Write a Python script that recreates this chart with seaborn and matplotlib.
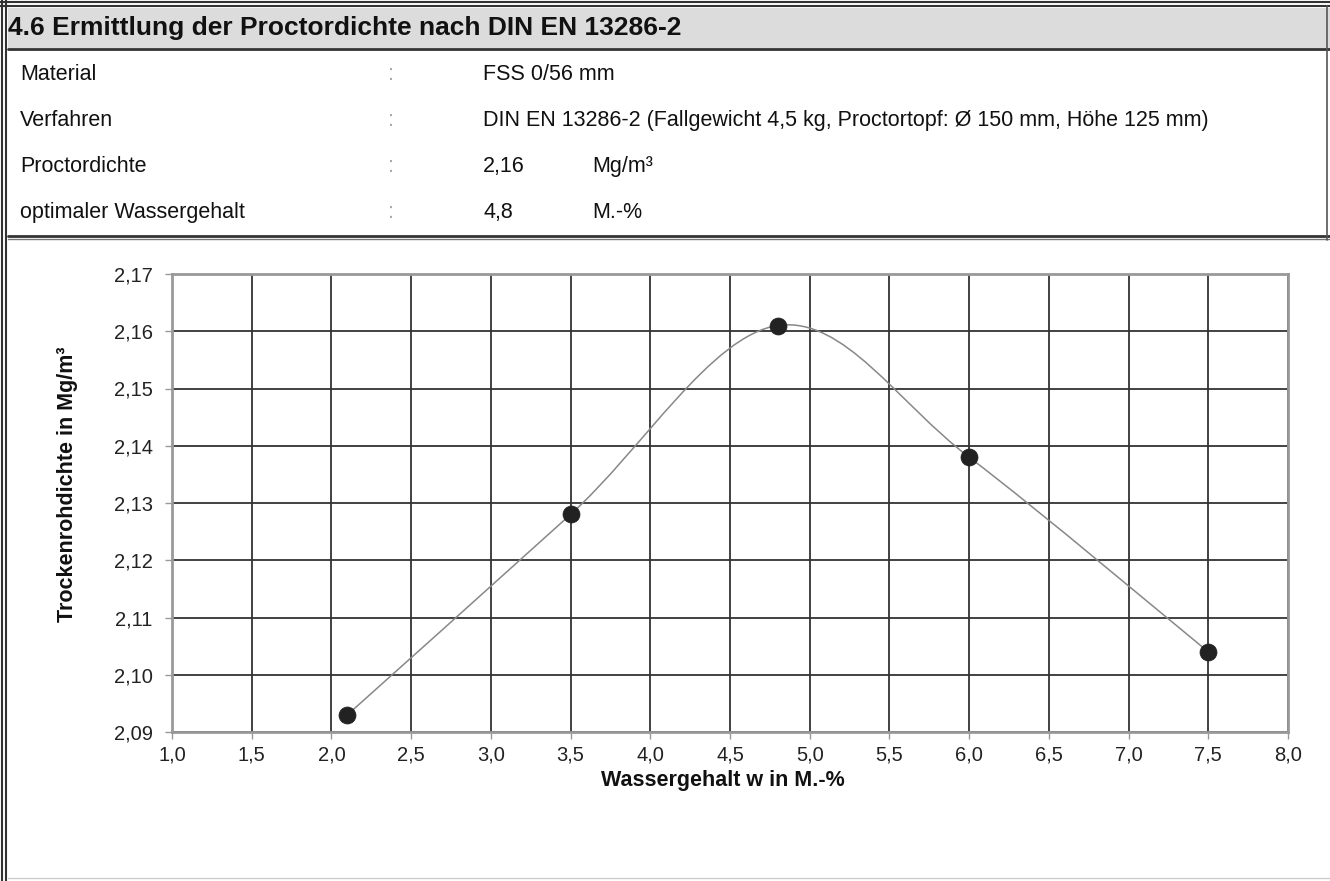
import matplotlib
matplotlib.use("Agg")
import matplotlib.pyplot as plt
from matplotlib.lines import Line2D
from matplotlib.patches import Rectangle, PathPatch
from matplotlib.path import Path
from matplotlib.ticker import FuncFormatter, MultipleLocator
import seaborn as sns
import pandas as pd

# ── Data ─────────────────────────────────────────────────────────────────────
water_content = [2.1, 3.5, 4.8, 6.0, 7.5]          # M.-%
dry_density   = [2.093, 2.128, 2.161, 2.138, 2.104]  # Mg/m³

row_labels = ["Material", "Verfahren", "Proctordichte", "optimaler Wassergehalt"]
row_values = ["FSS 0/56 mm",
              "DIN EN 13286-2 (Fallgewicht 4,5 kg, Proctortopf: Ø 150 mm, Höhe 125 mm)",
              "2,16", "4,8"]
row_units  = ["", "", "Mg/m³", "M.-%"]

title  = "4.6 Ermittlung der Proctordichte nach DIN EN 13286-2"
xlabel = "Wassergehalt w in M.-%"
ylabel = "Trockenrohdichte in Mg/m³"

# ── Style ────────────────────────────────────────────────────────────────────
sns.set_theme(style="white")
plt.rcParams["font.family"] = ["Liberation Sans", "DejaVu Sans"]

W, H = 1330, 881
fig = plt.figure(figsize=(W / 100, H / 100), dpi=100)
fig.patch.set_facecolor("white")


def fx(px):
    return px / W


def fy(py):
    return 1 - py / H


def hline(y, x0=0, x1=W, lw=1.5, color="#333"):
    fig.add_artist(Line2D([fx(x0), fx(x1)], [fy(y), fy(y)], lw=lw, color=color))


def vline(x, y0=0, y1=H, lw=1.5, color="#333"):
    fig.add_artist(Line2D([fx(x), fx(x)], [fy(y0), fy(y1)], lw=lw, color=color))


# ── Header table ─────────────────────────────────────────────────────────────
fig.add_artist(Rectangle((fx(8), fy(48)), fx(W - 8), 40 / H,
                         facecolor="#dcdcdc", edgecolor="none"))
hline(2, lw=1.5)
hline(6, lw=1.5)
hline(49, x0=8, lw=2)
hline(236, x0=8, lw=2)
hline(239, x0=8, lw=1, color="#777")
hline(878, x0=8, lw=1, color="#ccc")
vline(2, lw=1.5)
vline(6, lw=1.5)
vline(1327, y0=6, y1=240, lw=1.2, color="#555")

fig.text(fx(8), fy(35), title, fontsize=19, fontweight="bold",
         va="baseline", ha="left", color="#111")

row_base = [80, 126, 172, 218]
for y, lab, val, unit in zip(row_base, row_labels, row_values, row_units):
    fig.text(fx(20), fy(y), lab, fontsize=15.5, va="baseline", color="#111")
    fig.text(fx(388), fy(y), ":", fontsize=15.5, va="baseline", color="#aaa")
    fig.text(fx(483), fy(y), val, fontsize=15.5, va="baseline", color="#111")
    if unit:
        fig.text(fx(592), fy(y), unit, fontsize=15.5, va="baseline", color="#111")

# ── Chart ────────────────────────────────────────────────────────────────────
ax = fig.add_axes([fx(172), fy(732), (1288 - 172) / W, (732 - 274) / H])
ax.set_xlim(1.0, 8.0)
ax.set_ylim(2.09, 2.17)
ax.xaxis.set_major_locator(MultipleLocator(0.5))
ax.yaxis.set_major_locator(MultipleLocator(0.01))
ax.xaxis.set_major_formatter(FuncFormatter(lambda v, p: f"{v:.1f}".replace(".", ",")))
ax.yaxis.set_major_formatter(FuncFormatter(lambda v, p: f"{v:.2f}".replace(".", ",")))
ax.grid(True, color="#333", lw=1.3)
ax.set_axisbelow(True)
for s in ax.spines.values():
    s.set_color("#999")
    s.set_linewidth(2)
    s.set_zorder(3)
ax.tick_params(axis="both", which="major", direction="out", length=5, width=1,
               color="#999", labelsize=14.5, labelcolor="#222",
               left=True, bottom=True)
ax.tick_params(axis="y", pad=9)
ax.tick_params(axis="x", pad=5)

# smoothed curve (Catmull-Rom style, like a spreadsheet "smoothed line")
pts = list(zip(water_content, dry_density))
verts = [pts[0]]
codes = [Path.MOVETO]
for i in range(len(pts) - 1):
    p0 = pts[i - 1] if i > 0 else pts[i]
    p1 = pts[i]
    p2 = pts[i + 1]
    p3 = pts[i + 2] if i + 2 < len(pts) else pts[i + 1]
    c1 = (p1[0] + (p2[0] - p0[0]) / 6, p1[1] + (p2[1] - p0[1]) / 6)
    c2 = (p2[0] - (p3[0] - p1[0]) / 6, p2[1] - (p3[1] - p1[1]) / 6)
    verts += [c1, c2, p2]
    codes += [Path.CURVE4] * 3
ax.add_patch(PathPatch(Path(verts, codes), facecolor="none",
                       edgecolor="#888", lw=1.1, zorder=4))

df = pd.DataFrame({"w": water_content, "rho": dry_density})
sns.scatterplot(data=df, x="w", y="rho", ax=ax, s=150, color="#222",
                edgecolor="#222", linewidth=0.5, zorder=5)

ax.set_xlabel(xlabel, fontsize=15.5, fontweight="bold", color="#111")
ax.set_ylabel(ylabel, fontsize=15.5, fontweight="bold", color="#111")
ax.xaxis.set_label_coords(0.494, -0.083)
ax.yaxis.set_label_coords(-0.084, 0.54)

fig.savefig("out.png", dpi=100)
